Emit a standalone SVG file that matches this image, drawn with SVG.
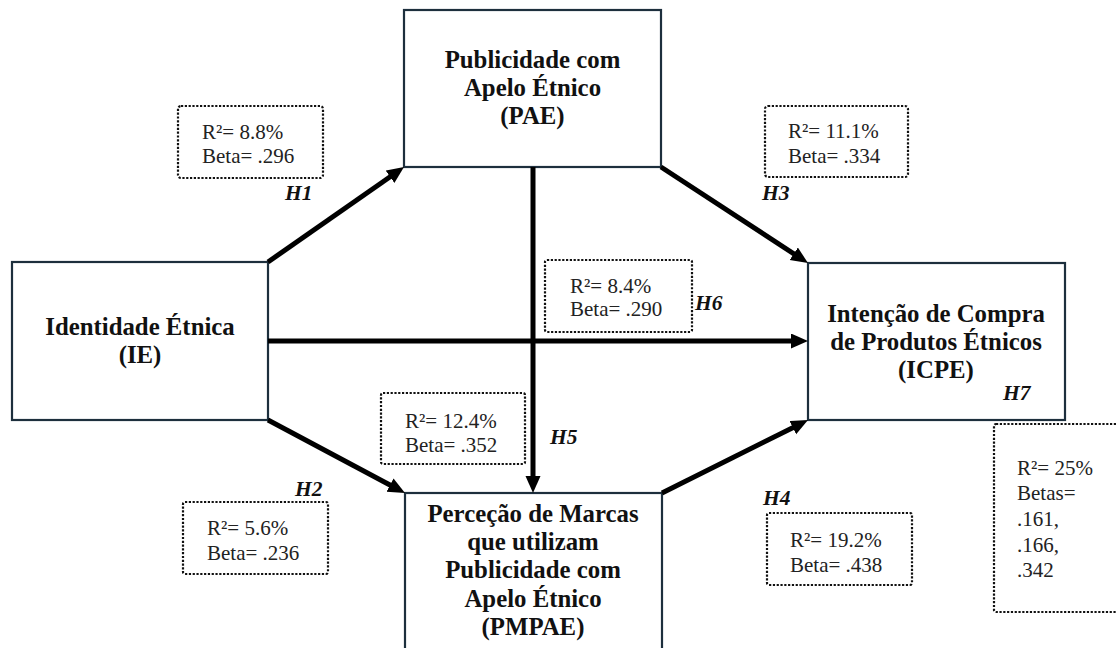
<svg xmlns="http://www.w3.org/2000/svg" width="1116" height="648" viewBox="0 0 1116 648">
<style>
.node{fill:#ffffff;stroke:#1d2f3d;stroke-width:2.2}
.lbl{font-family:'Liberation Serif',Tinos,'Times New Roman','DejaVu Serif',serif;font-weight:bold;font-size:24.8px;fill:#111;text-anchor:middle}
.stat{fill:none;stroke:#111;stroke-width:2.2;stroke-dasharray:2.2 1.6}
.st{font-family:'Liberation Serif',Tinos,'Times New Roman','DejaVu Serif',serif;font-size:21px;fill:#222}
.h{font-family:'Liberation Serif',Tinos,'Times New Roman','DejaVu Serif',serif;font-weight:bold;font-style:italic;font-size:21.5px;fill:#111}
.arr{stroke:#000;stroke-width:5;fill:none;marker-end:url(#ah)}
</style>
<defs>
<marker id="ah" markerUnits="userSpaceOnUse" markerWidth="18" markerHeight="16" refX="1" refY="7.5" orient="auto">
<path d="M0,0 L17,7.5 L0,15 z" fill="#000"/>
</marker>
</defs>
<rect width="1116" height="648" fill="#ffffff"/>

<g id="node-IE">
<rect class="node" x="12" y="262" width="256" height="158"/>
<text class="lbl" x="140" y="335">Identidade Étnica</text>
<text class="lbl" x="140" y="363">(IE)</text>
</g>

<g id="node-PAE">
<rect class="node" x="404" y="10" width="257" height="157"/>
<text class="lbl" x="532.5" y="68">Publicidade com</text>
<text class="lbl" x="532.5" y="96">Apelo Étnico</text>
<text class="lbl" x="532.5" y="124">(PAE)</text>
</g>

<g id="node-ICPE">
<rect class="node" x="808" y="263" width="257" height="157"/>
<text class="lbl" x="936" y="322">Intenção de Compra</text>
<text class="lbl" x="936" y="350">de Produtos Étnicos</text>
<text class="lbl" x="936" y="378">(ICPE)</text>
<text class="h" x="1003" y="400">H7</text>
</g>

<g id="node-PMPAE">
<rect class="node" x="405" y="493" width="257" height="170"/>
<text class="lbl" x="533" y="522">Perceção de Marcas</text>
<text class="lbl" x="533" y="550">que utilizam</text>
<text class="lbl" x="533" y="578">Publicidade com</text>
<text class="lbl" x="533" y="607">Apelo Étnico</text>
<text class="lbl" x="533" y="635">(PMPAE)</text>
</g>

<g id="connectors">
<line class="arr" x1="268" y1="262" x2="390.9" y2="176.2"/>
<line class="arr" x1="268" y1="420" x2="390.9" y2="485.5"/>
<line class="arr" x1="661" y1="167" x2="794.6" y2="254.3"/>
<line class="arr" x1="662" y1="493" x2="793.7" y2="427.2"/>
<line class="arr" x1="268" y1="341" x2="792" y2="341"/>
<line class="arr" x1="533" y1="167" x2="533" y2="477"/>
</g>

<g id="stats-H1">
<rect class="stat" x="178" y="106" width="145" height="72" rx="3"/>
<text class="st" x="202" y="139">R²= 8.8%</text>
<text class="st" x="202" y="163">Beta= .296</text>
<text class="h" x="285" y="200">H1</text>
</g>

<g id="stats-H3">
<rect class="stat" x="765" y="106" width="143" height="71" rx="3"/>
<text class="st" x="788" y="138">R²= 11.1%</text>
<text class="st" x="788" y="163">Beta= .334</text>
<text class="h" x="762" y="200">H3</text>
</g>

<g id="stats-H6">
<rect class="stat" x="545" y="260" width="147" height="72" rx="2"/>
<text class="st" x="570" y="293">R²= 8.4%</text>
<text class="st" x="570" y="316">Beta= .290</text>
<text class="h" x="695" y="310">H6</text>
</g>

<g id="stats-H5">
<rect class="stat" x="381" y="393" width="144" height="71" rx="2"/>
<text class="st" x="405" y="428">R²= 12.4%</text>
<text class="st" x="405" y="452">Beta= .352</text>
<text class="h" x="550" y="444">H5</text>
</g>

<g id="stats-H2">
<rect class="stat" x="183" y="502" width="145" height="72" rx="2"/>
<text class="st" x="207" y="535">R²= 5.6%</text>
<text class="st" x="207" y="560">Beta= .236</text>
<text class="h" x="295" y="496">H2</text>
</g>

<g id="stats-H4">
<rect class="stat" x="767" y="513" width="145" height="72" rx="2"/>
<text class="st" x="790" y="547">R²= 19.2%</text>
<text class="st" x="790" y="572">Beta= .438</text>
<text class="h" x="763" y="505">H4</text>
</g>

<g id="stats-H7">
<rect class="stat" x="994" y="424" width="140" height="188" rx="2"/>
<text class="st" x="1017" y="475">R²= 25%</text>
<text class="st" x="1017" y="500">Betas=</text>
<text class="st" x="1017" y="526">.161,</text>
<text class="st" x="1017" y="552">.166,</text>
<text class="st" x="1017" y="577">.342</text>
</g>
</svg>
